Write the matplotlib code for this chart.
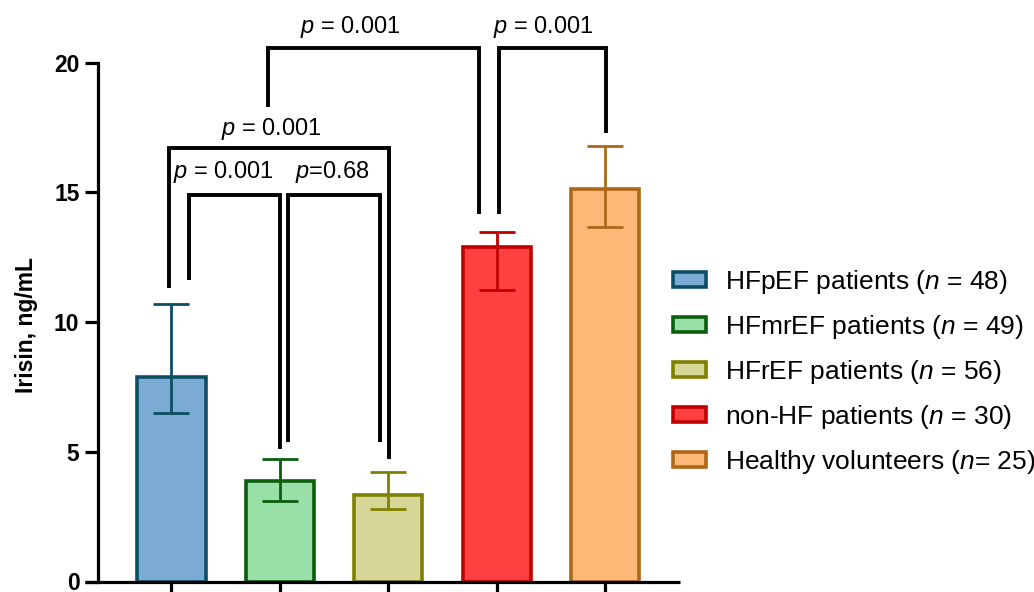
import matplotlib
matplotlib.use("Agg")
import matplotlib.pyplot as plt
from matplotlib.patches import Patch
from matplotlib.lines import Line2D

plt.rcParams["font.family"] = ["Liberation Sans", "DejaVu Sans"]
plt.rcParams["mathtext.fontset"] = "custom"
plt.rcParams["mathtext.rm"] = "Liberation Sans"
plt.rcParams["mathtext.it"] = "Liberation Sans:italic"
plt.rcParams["mathtext.bf"] = "Liberation Sans:bold"

# irisin levels per group: bar height with lower / upper whisker
groups = ["HFpEF patients", "HFmrEF patients", "HFrEF patients",
          "non-HF patients", "Healthy volunteers"]
n_sizes = ["$n$ = 48", "$n$ = 49", "$n$ = 56", "$n$ = 30", "$n$= 25"]
irisin = [7.87, 3.87, 3.33, 12.90, 15.11]
err_low = [6.50, 3.09, 2.78, 11.23, 13.65]
err_high = [10.69, 4.73, 4.23, 13.46, 16.78]
fills = ["#7BAAD4", "#98DFA8", "#D6D698", "#FF4040", "#FDB878"]
edges = ["#0D4E66", "#0A5E0E", "#808000", "#C00000", "#AE6716"]

p_values = ["$p$ = 0.001", "$p$=0.68", "$p$ = 0.001", "$p$ = 0.001", "$p$ = 0.001"]

fig = plt.figure(figsize=(10.34, 5.92), dpi=100)
ax = fig.add_axes([98 / 1034, 10.5 / 592, 582 / 1034, 519 / 592])

xs = list(range(len(groups)))
ax.bar(xs, irisin, width=0.63, color=fills, edgecolor=edges, linewidth=2.6, zorder=2)
for x, v, lo, hi, c in zip(xs, irisin, err_low, err_high, edges):
    ax.errorbar(x, v, yerr=[[v - lo], [hi - v]], fmt="none", ecolor=c,
                elinewidth=2.0, capsize=13, capthick=2.0, zorder=3)

ax.set_xlim(-0.678, 4.691)
ax.set_ylim(0, 20)
ax.set_yticks([0, 5, 10, 15, 20])
ax.set_xticks(xs)
ax.set_xticklabels([])
for s in ["top", "right", "bottom"]:
    ax.spines[s].set_visible(False)
ax.spines["left"].set_linewidth(2.3)
ax.tick_params(axis="y", length=9.4, width=2.3, pad=4, labelsize=16.5)
ax.tick_params(axis="x", length=12, width=2.3)
for lab in ax.get_yticklabels():
    lab.set_fontweight("bold")
# x axis line runs a little past the y axis, as in Prism
ax.add_line(Line2D([-13 / 582, 1], [0, 0], transform=ax.transAxes, color="black",
                   lw=2.3, clip_on=False, solid_capstyle="butt"))

ax.set_ylabel("Irisin, ng/mL", fontsize=16.5, fontweight="bold")
ax.yaxis.set_label_coords(-0.103, 0.494)

# significance brackets: (x_left, x_right, y_top, left leg end, right leg end)
brackets = [
    (0.16, 1.00, 14.89, 11.62, 5.11),
    (1.076, 1.92, 14.89, 5.38, 5.38),
    (-0.025, 2.003, 16.69, 11.30, 4.71),
    (0.894, 2.84, 20.56, 18.28, 14.16),
    (3.02, 4.01, 20.56, 14.16, 17.28),
]
label_pos = [(0.475, 15.54), (1.485, 15.54), (0.921, 17.21), (1.647, 21.14), (3.427, 21.14)]
for (x1, x2, yt, y1, y2), (tx, ty), p in zip(brackets, label_pos, p_values):
    ax.plot([x1, x1, x2, x2], [y1, yt, yt, y2], color="black", lw=2.8,
            solid_joinstyle="miter", solid_capstyle="butt", clip_on=False, zorder=4)
    ax.text(tx, ty, p, ha="center", va="baseline", fontsize=17, clip_on=False)

handles = [Patch(facecolor=f, edgecolor=e, linewidth=2.6) for f, e in zip(fills, edges)]
labels = [f"{g} ({n})" for g, n in zip(groups, n_sizes)]
fig.legend(handles, labels, loc="center left", bbox_to_anchor=(673 / 1034, 1 - 372 / 592),
           frameon=False, fontsize=19, handlelength=1.25, handleheight=0.5,
           handletextpad=0.72, labelspacing=0.64, borderpad=0, borderaxespad=0)

fig.savefig("out.png", dpi=100)
